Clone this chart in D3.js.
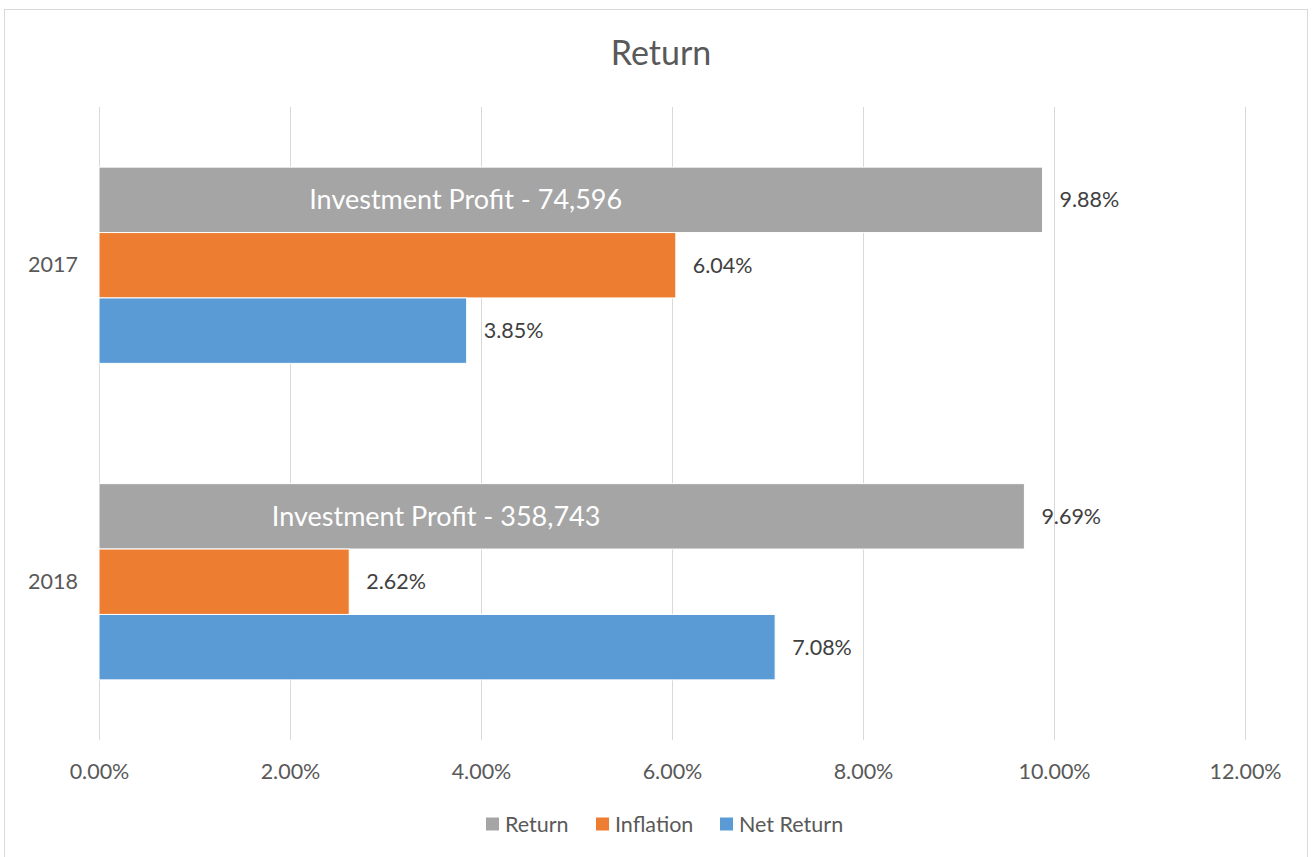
<!DOCTYPE html>
<html>
<head>
<meta charset="utf-8">
<script src="https://cdn.jsdelivr.net/npm/d3@7"></script>
<style>
  body { margin: 0; background: #fff; }
  svg { font-family: Lato, "Open Sans", sans-serif; }
</style>
</head>
<body>
<div class="bar-chart"></div>
<script>
// data
const years = ["2017", "2018"];
const seriesNames = ["Return", "Inflation", "Net Return"];
const returnVals = [0.0988, 0.0969];
const inflationVals = [0.0604, 0.0262];
const netReturnVals = [0.0385, 0.0708];
const profitLabels = ["Investment Profit - 74,596", "Investment Profit - 358,743"];
const profitLabelAt = [0.0384, 0.0353];
const xTicks = [0, 0.02, 0.04, 0.06, 0.08, 0.10, 0.12];
const colors = ["#A5A5A5", "#ED7D31", "#5B9BD5"];

const W = 1312, H = 857;
const margin = { top: 107, right: 67, bottom: 117, left: 99 };
const width = W - margin.left - margin.right;
const height = H - margin.top - margin.bottom;

const root = d3.select('.bar-chart')
    .append('svg')
    .attr("width", W)
    .attr("height", H);

// chart border
root.append("rect")
    .attr("x", 4.5).attr("y", 9.5)
    .attr("width", 1303).attr("height", 860)
    .attr("fill", "none")
    .attr("stroke", "#d9d9d9");

root.append("text")
    .attr("x", 661).attr("y", 65)
    .attr("text-anchor", "middle")
    .attr("font-size", 34)
    .attr("fill", "#595959")
    .text("Return");

const svg = root.append("g")
    .attr("transform", "translate(" + margin.left + "," + margin.top + ")");

const x = d3.scaleLinear()
    .domain([0, 0.12])
    .range([0, width]);

const y = d3.scaleBand()
    .domain(years)
    .range([0, height])
    .paddingInner(0.38)
    .paddingOuter(0.19);

const yInner = d3.scaleBand()
    .domain(seriesNames)
    .range([0, y.bandwidth()]);

// gridlines
svg.selectAll(".grid")
    .data(xTicks)
    .enter()
    .append("line")
    .attr("x1", d => Math.round(x(d)) + 0.5)
    .attr("x2", d => Math.round(x(d)) + 0.5)
    .attr("y1", 0)
    .attr("y2", height)
    .attr("stroke", "#d9d9d9")
    .attr("stroke-width", 1);

// x axis labels
const xaxis = d3.axisBottom(x)
    .tickValues(xTicks)
    .tickSize(0)
    .tickPadding(24)
    .tickFormat(d3.format(".2%"));

svg.append('g')
    .attr('class', 'x axis')
    .attr('transform', 'translate(0,' + height + ')')
    .call(xaxis)
    .call(g => g.select(".domain").remove())
    .selectAll("text")
    .attr("font-size", 21.5)
    .attr("font-family", "Lato, 'Open Sans', sans-serif")
    .attr("fill", "#595959");

// y axis labels
const yaxis = d3.axisLeft(y).tickSize(0).tickPadding(21);
svg.append('g')
    .call(yaxis)
    .call(g => g.select(".domain").remove())
    .selectAll("text")
    .attr("font-size", 21.5)
    .attr("font-family", "Lato, 'Open Sans', sans-serif")
    .attr("fill", "#595959");

const rows = [];
years.forEach((yr, i) => {
    [returnVals[i], inflationVals[i], netReturnVals[i]].forEach((v, j) => {
        rows.push({ year: yr, series: seriesNames[j], value: v, idx: j });
    });
});

svg.selectAll(".bar")
    .data(rows)
    .enter()
    .append("rect")
    .attr("class", "bar")
    .attr("x", 0)
    .attr("y", d => y(d.year) + yInner(d.series))
    .attr("width", d => x(d.value))
    .attr("height", yInner.bandwidth())
    .attr("fill", d => colors[d.idx])
    .attr("stroke", "#fff")
    .attr("stroke-width", 1);

// value labels
svg.selectAll(".val")
    .data(rows)
    .enter()
    .append("text")
    .attr("x", d => x(d.value) + 17)
    .attr("y", d => y(d.year) + yInner(d.series) + yInner.bandwidth() / 2)
    .attr("dy", "0.35em")
    .attr("font-size", 21.5)
    .attr("fill", "#404040")
    .text(d => d3.format(".2%")(d.value));

// profit labels inside the return bars
svg.selectAll(".profit")
    .data(years)
    .enter()
    .append("text")
    .attr("x", (d, i) => x(profitLabelAt[i]))
    .attr("y", d => y(d) + yInner("Return") + yInner.bandwidth() / 2)
    .attr("dy", "0.35em")
    .attr("text-anchor", "middle")
    .attr("font-size", 27)
    .attr("fill", "#fff")
    .text((d, i) => profitLabels[i]);

// legend
const legend = root.append("g").attr("transform", "translate(486,824)");
const legendX = [0, 110, 234];
seriesNames.forEach((s, i) => {
    const g = legend.append("g").attr("transform", "translate(" + legendX[i] + ",0)");
    g.append("rect")
        .attr("x", 0).attr("y", -6.5)
        .attr("width", 13).attr("height", 13)
        .attr("fill", colors[i]);
    g.append("text")
        .attr("x", 19).attr("y", 0)
        .attr("dy", "0.35em")
        .attr("font-size", 21.5)
        .attr("fill", "#595959")
        .text(s);
});
</script>
</body>
</html>
